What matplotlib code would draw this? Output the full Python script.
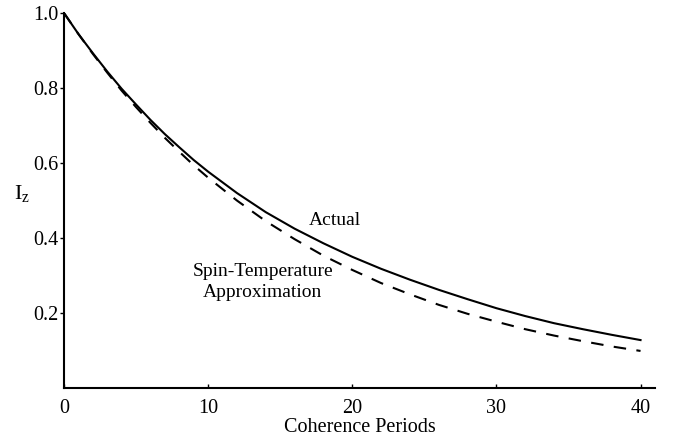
import numpy as np
import matplotlib.pyplot as plt

plt.rcParams['font.family'] = ['Liberation Serif', 'DejaVu Serif']
plt.rcParams['mathtext.fontset'] = 'custom'
plt.rcParams['mathtext.rm'] = 'Liberation Serif'
plt.rcParams['mathtext.it'] = 'Liberation Serif'

# values
periods = [0, 1, 2, 3, 4, 5, 6, 7, 8, 9, 10, 12, 14, 16, 18, 20, 22, 24, 26,
           28, 30, 32, 34, 36, 38, 40]
actual = [1.0, 0.944, 0.893, 0.844, 0.798, 0.756, 0.715, 0.677, 0.642, 0.608,
          0.577, 0.520, 0.469, 0.425, 0.386, 0.350, 0.318, 0.289, 0.262,
          0.237, 0.213, 0.192, 0.173, 0.157, 0.142, 0.128]
spin_temp = [1.0, 0.944, 0.891, 0.841, 0.793, 0.749, 0.707, 0.667, 0.630, 0.594,
             0.561, 0.500, 0.445, 0.397, 0.353, 0.315, 0.280, 0.250, 0.222,
             0.198, 0.177, 0.157, 0.140, 0.125, 0.111, 0.099]

xticks = [0, 10, 20, 30, 40]
yticks = [0.2, 0.4, 0.6, 0.8, 1.0]

fig = plt.figure(figsize=(6.78, 4.41), dpi=100)
ax = fig.add_axes([0.0944, 0.120, 0.8716, 0.8505])

ax.plot(periods, actual, color='black', lw=1.5)
ax.plot(periods, spin_temp, color='black', lw=1.5, dashes=(6, 5))

ax.set_xlim(0, 41)
ax.set_ylim(0, 1.0)
ax.set_xticks(xticks)
ax.set_yticks(yticks)
ax.set_yticklabels(['%.1f' % v for v in yticks])

for s in ['top', 'right']:
    ax.spines[s].set_visible(False)
for s in ['left', 'bottom']:
    ax.spines[s].set_linewidth(1.5)

ax.tick_params(axis='x', direction='in', length=3, width=1, pad=8, labelsize=14.5)
ax.tick_params(axis='y', direction='out', length=3, width=1, pad=1, labelsize=14.5)

ax.set_xlabel('Coherence Periods', fontsize=14.5, labelpad=0)
fig.text(22 / 678, 1 - 193 / 441, r'$\mathregular{I_z}$', fontsize=16,
         ha='center', va='center')

ax.text(18.8, 0.448, 'Actual', fontsize=14, ha='center', va='center')
ax.text(13.8, 0.283, 'Spin-Temperature\nApproximation', fontsize=14,
        ha='center', va='center', linespacing=1.35)

fig.savefig('out.png', dpi=100)
